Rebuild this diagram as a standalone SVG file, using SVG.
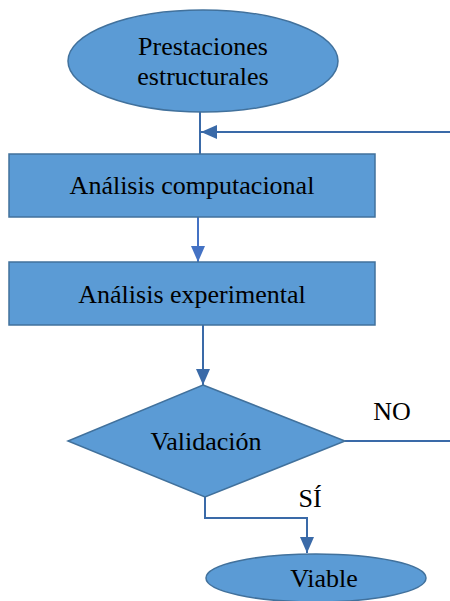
<svg xmlns="http://www.w3.org/2000/svg" width="450" height="601" viewBox="0 0 450 601">
<style>
.shape{fill:#5B9BD5;stroke:#41719C;stroke-width:1.5}
text{font-family:'Liberation Serif','Times New Roman','DejaVu Serif',serif;font-size:26px;fill:#000;text-anchor:middle}
.conn{fill:none;stroke:#3A6AA8;stroke-width:2}
.conn2{fill:none;stroke:#4472C4;stroke-width:2}
</style>
<defs>
<marker id="ah" markerUnits="userSpaceOnUse" markerWidth="16" markerHeight="14" refX="16" refY="7" orient="auto">
<path d="M0,0 L16,7 L0,14 Z" fill="#3A6AA8"/>
</marker>
<marker id="ah2" markerUnits="userSpaceOnUse" markerWidth="16" markerHeight="14" refX="16" refY="7" orient="auto">
<path d="M0,0 L16,7 L0,14 Z" fill="#4472C4"/>
</marker>
</defs>
<g id="connectors">
<line class="conn" x1="200" y1="112" x2="200" y2="154"/>
<line class="conn" x1="450" y1="132" x2="201" y2="132" marker-end="url(#ah)"/>
<line class="conn2" x1="198" y1="217" x2="198" y2="262" marker-end="url(#ah2)"/>
<line class="conn" x1="203" y1="325" x2="203" y2="385" marker-end="url(#ah)"/>
<line class="conn" x1="345" y1="441" x2="450" y2="441"/>
<polyline class="conn" points="205,497 205,518 307,518 307,553" marker-end="url(#ah)"/>
</g>
<g id="start">
<ellipse class="shape" cx="203" cy="61" rx="135" ry="51"/>
<text x="203" y="55">Prestaciones</text>
<text x="203" y="85">estructurales</text>
</g>
<g id="comp">
<rect class="shape" x="9" y="154" width="366" height="63"/>
<text x="192" y="194">Análisis computacional</text>
</g>
<g id="exp">
<rect class="shape" x="9" y="262" width="366" height="63"/>
<text x="192" y="303">Análisis experimental</text>
</g>
<g id="valid">
<polygon class="shape" points="203,385 345,441 205,497 68,441"/>
<text x="206" y="450">Validación</text>
</g>
<g id="viable">
<ellipse class="shape" cx="316" cy="578" rx="110" ry="24"/>
<text x="324" y="587">Viable</text>
</g>
<text x="392" y="420">NO</text>
<text x="310" y="507" font-size="30">SÍ</text>
</svg>
